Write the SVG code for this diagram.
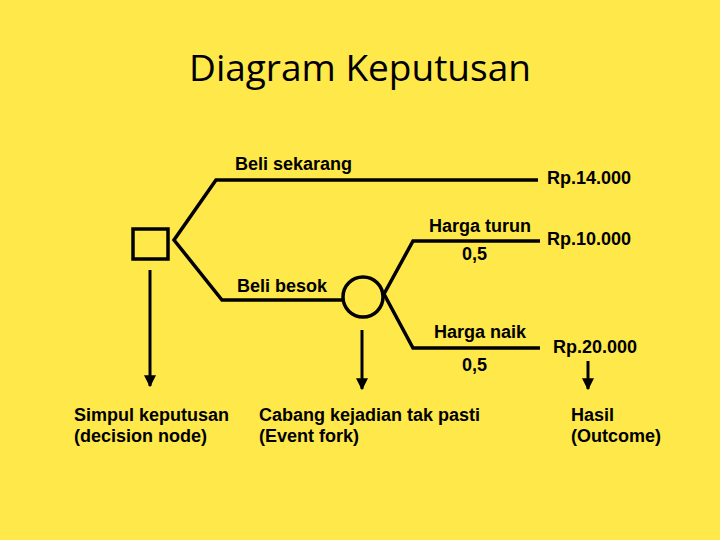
<svg xmlns="http://www.w3.org/2000/svg" width="720" height="540" viewBox="0 0 720 540">
<defs>
<style>
.t{font-family:"Liberation Sans",Arial,sans-serif;font-weight:bold;font-size:18px;fill:#000}
.title{font-family:"Open Sans","Liberation Sans",sans-serif;font-size:37px;fill:#000}
.ln{fill:none;stroke:#000;stroke-width:3.5;stroke-linejoin:miter}
.ar{stroke:#000;stroke-width:3;fill:none}
</style>
<marker id="ah" viewBox="0 0 10 10" refX="9" refY="5" markerWidth="4" markerHeight="4" orient="auto" markerUnits="strokeWidth">
<path d="M0,0 L10,5 L0,10 z" fill="#000"/>
</marker>
</defs>
<rect width="720" height="540" fill="#FFE84A"/>
<text class="title" x="360" y="81" text-anchor="middle">Diagram Keputusan</text>
<g id="connectors">
<polyline class="ln" points="538,180 216,180 174,240 222,300 343,300"/>
<polyline class="ln" points="540,241 413,241 384,294 413,348 540,348"/>
<line class="ar" x1="150" y1="270" x2="150" y2="386" marker-end="url(#ah)"/>
<line class="ar" x1="362" y1="330" x2="362" y2="389" marker-end="url(#ah)"/>
<line class="ar" x1="588" y1="361" x2="588" y2="389" marker-end="url(#ah)"/>
</g>
<g id="decision">
<rect class="ln" x="133" y="229" width="35" height="30"/>
</g>
<g id="event">
<circle class="ln" cx="363" cy="297" r="20"/>
</g>
<g id="labels">
<text class="t" x="235" y="170">Beli sekarang</text>
<text class="t" x="547" y="184">Rp.14.000</text>
<text class="t" x="429" y="232">Harga turun</text>
<text class="t" x="462" y="260">0,5</text>
<text class="t" x="547" y="245">Rp.10.000</text>
<text class="t" x="237" y="292">Beli besok</text>
<text class="t" x="434" y="338">Harga naik</text>
<text class="t" x="462" y="371">0,5</text>
<text class="t" x="553" y="353">Rp.20.000</text>
<text class="t" x="74" y="421">Simpul keputusan</text>
<text class="t" x="74" y="442">(decision node)</text>
<text class="t" x="259" y="421">Cabang kejadian tak pasti</text>
<text class="t" x="259" y="442">(Event fork)</text>
<text class="t" x="571" y="421">Hasil</text>
<text class="t" x="571" y="442">(Outcome)</text>
</g>
</svg>
